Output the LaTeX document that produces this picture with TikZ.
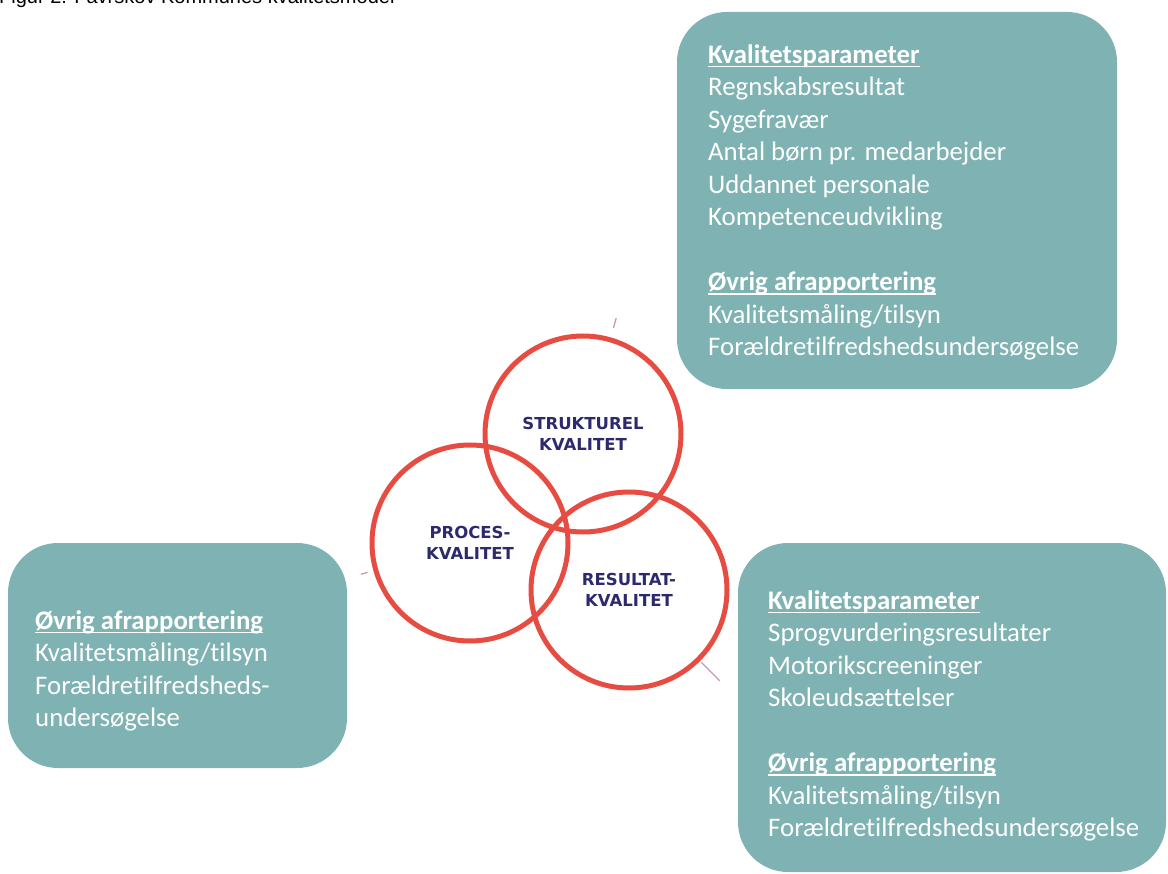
\documentclass[tikz,border=0pt]{standalone}
\usepackage{fontspec}
\setmainfont[Ligatures=NoCommon]{Carlito}
\newfontfamily\ringfont{DejaVu Sans}
\newfontfamily\captionfont{Liberation Sans}
\usetikzlibrary{positioning}
\definecolor{boxteal}{RGB}{127,178,178}
\definecolor{ringred}{RGB}{231,76,66}
\definecolor{ringnavy}{RGB}{44,42,108}
\definecolor{tickrose}{RGB}{205,150,180}
\newcommand{\ulhead}[1]{\setbox0\hbox{\bfseries #1}\rlap{\rule[-4pt]{\wd0}{1.5pt}}\box0}

\begin{document}
\begin{tikzpicture}[x=1pt,y=-1pt,
  infobox/.style={fill=boxteal, draw=none, rounded corners=50pt},
  boxtext/.style={text=white, align=left, anchor=north west, inner sep=0pt, font=\fontsize{26.8}{32.5}\selectfont},
  ring/.style={circle, draw=ringred, line width=5pt, minimum size=196pt, inner sep=0pt, text=ringnavy, align=center, font=\ringfont\bfseries\fontsize{16.5}{21}\selectfont},
  tickmark/.style={draw=tickrose, line width=1.3pt}]
\useasboundingbox (0,0) rectangle (1168,874);
\node[anchor=base west, inner sep=0pt, font=\captionfont\fontsize{20}{24}\selectfont] (caption) at (-1,4) {Figur 2: Favrskov Kommunes kvalitetsmodel};

\draw[infobox] (677,12) rectangle (1117,389);
\draw[infobox] (8,543) rectangle (347,768);
\draw[infobox] (738,543) rectangle (1166,872);

\node[boxtext] (structtext) at (708,44) {\ulhead{Kvalitetsparameter}\\Regnskabsresultat\\Sygefravær\\Antal børn pr. medarbejder\\Uddannet personale\\Kompetenceudvikling\\[32.5pt]\ulhead{Øvrig afrapportering}\\Kvalitetsmåling/tilsyn\\Forældretilfredshedsundersøgelse};
\node[boxtext] (proctext) at (35,610) {\ulhead{Øvrig afrapportering}\\Kvalitetsmåling/tilsyn\\Forældretilfredsheds-\\undersøgelse};
\node[boxtext] (resulttext) at (768,590) {\ulhead{Kvalitetsparameter}\\Sprogvurderingsresultater\\Motorikscreeninger\\Skoleudsættelser\\[32.5pt]\ulhead{Øvrig afrapportering}\\Kvalitetsmåling/tilsyn\\Forældretilfredshedsundersøgelse};

\node[ring] (struct) at (583,434) {STRUKTUREL\\KVALITET};
\node[ring] (proc) at (470,543) {PROCES-\\KVALITET};
\node[ring] (result) at (629,590) {RESULTAT-\\KVALITET};

\draw[tickmark] ([shift={(74:10pt)}]struct.74) -- ([shift={(74:20pt)}]struct.74);
\draw[tickmark] ([shift={(196:6pt)}]proc.196) -- ([shift={(196:13pt)}]proc.196);
\draw[tickmark] ([shift={(-45:2pt)}]result.-45) -- ([shift={(-45:28pt)}]result.-45);
\end{tikzpicture}
\end{document}
